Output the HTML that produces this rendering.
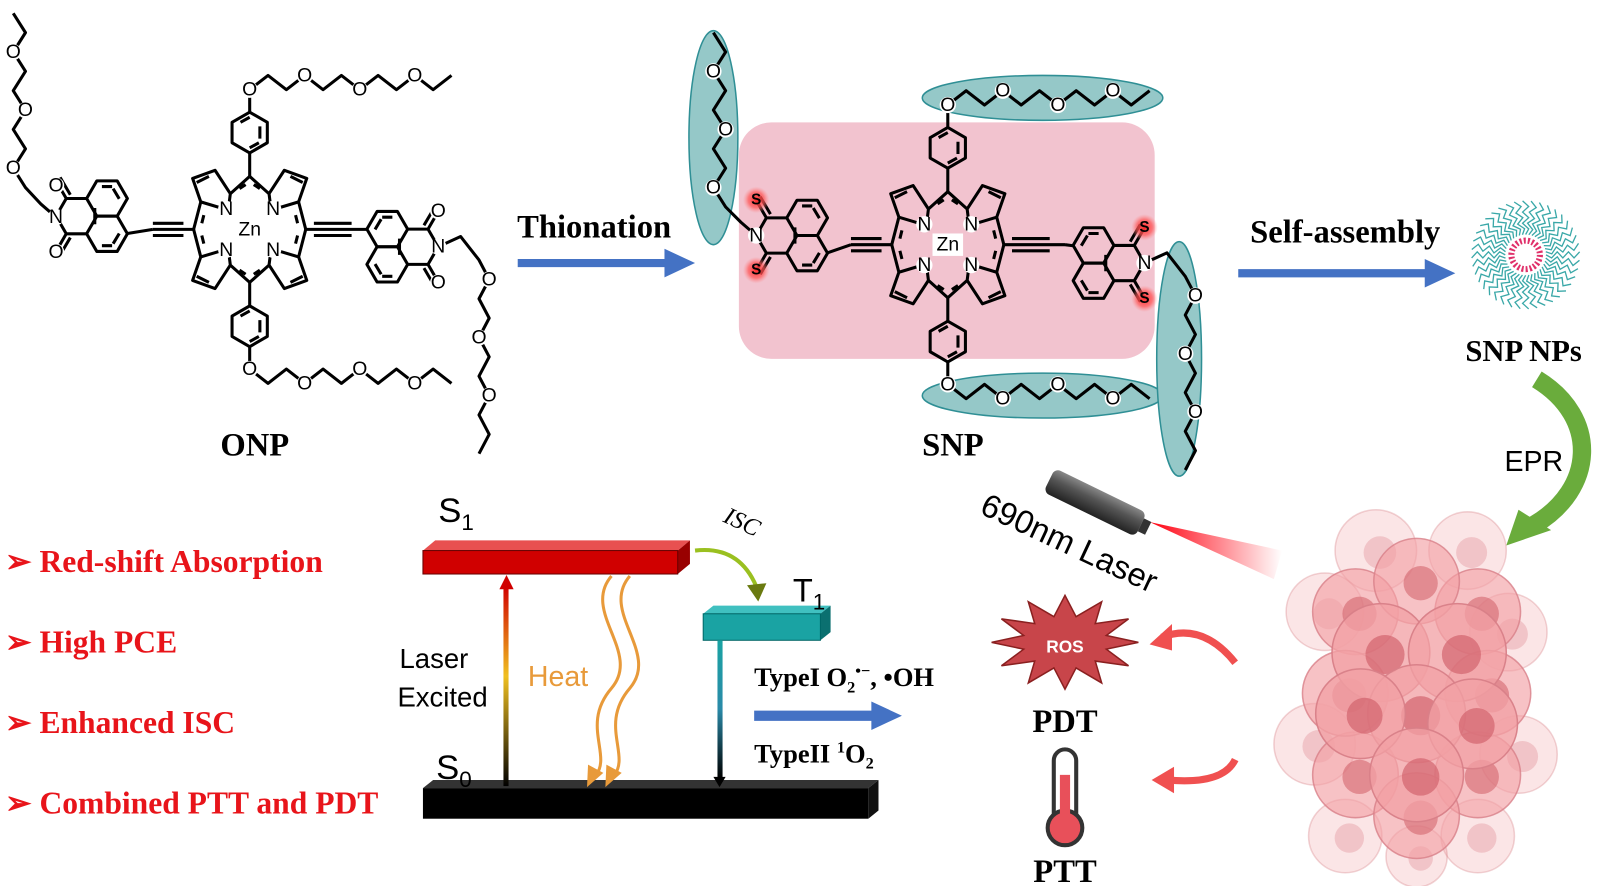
<!DOCTYPE html>
<html><head><meta charset="utf-8"><style>
html,body{margin:0;padding:0;background:#fff;}
svg{display:block}
.m{font-family:"Liberation Sans",sans-serif;font-size:19px;fill:#000;text-anchor:middle;dominant-baseline:central}
.b{stroke:#000;stroke-width:3;fill:none;stroke-linejoin:round}
.sf{font-family:"Liberation Serif",serif;font-weight:bold}
.ss{font-family:"Liberation Sans",sans-serif}
.li{font-family:"Liberation Serif",serif;font-weight:bold;font-size:31px;fill:#e8141a}
</style></head><body>
<svg width="1598" height="886" viewBox="0 0 1568 869" preserveAspectRatio="none" xmlns="http://www.w3.org/2000/svg">
<defs>
<g id="q"><path d="M-19,-35 L-34,-58 L-56,-50 L-48,-27 M-20,-27 L-19,-35 M-28,-21 L-48,-27 M-19,-35 L0,-52 M-48,-27 L-55,0 M-40,-52 L-52,-46 M-10,-40 L-4,-44 M-45,-14 L-47,-6"/></g>
<g id="por" class="b"><use href="#q"/><use href="#q" transform="scale(-1,1)"/><use href="#q" transform="scale(1,-1)"/><use href="#q" transform="scale(-1,-1)"/></g>
<g id="bz" class="b"><polygon points="0,-20 17.3,-10 17.3,10 0,20 -17.3,10 -17.3,-10"/><path d="M-9,-10 L0,-15 M9,10 L0,15 M10,-6 L10,6"/></g>
<g id="nap" class="b"><polygon points="-20,-17.3 -10,-34.6 10,-34.6 20,-17.3 10,0 -10,0"/><polygon points="-20,17.3 -10,0 10,0 20,17.3 10,34.6 -10,34.6"/><path d="M20,-17.3 L40,-17.3 L50,0 L40,17.3 L20,17.3 M40,-17.3 L50,-34.6 M40,17.3 L50,34.6 M36,-21 L46,-38 M36,21 L46,38 M-12,-17 L-6,-27 M5,-29 L-5,-29 M-12,17 L-6,27 M5,29 L-5,29 M12,-8 L12,8"/></g>
<radialGradient id="rg"><stop offset="0" stop-color="#ff2a2a"/><stop offset="0.6" stop-color="#ff5555" stop-opacity="0.7"/><stop offset="1" stop-color="#ff8888" stop-opacity="0"/></radialGradient>
<linearGradient id="exc" x1="0" y1="1" x2="0" y2="0"><stop offset="0" stop-color="#000"/><stop offset="0.55" stop-color="#f0c020"/><stop offset="1" stop-color="#d00000"/></linearGradient>
<linearGradient id="tg" x1="0" y1="0" x2="0" y2="1"><stop offset="0" stop-color="#1aa3a3"/><stop offset="0.5" stop-color="#2a8aa8"/><stop offset="1" stop-color="#000"/></linearGradient>
<linearGradient id="beam" x1="0" y1="0" x2="1" y2="0"><stop offset="0" stop-color="#ff0010"/><stop offset="1" stop-color="#ff0010" stop-opacity="0"/></linearGradient>
<linearGradient id="cyl" x1="0" y1="0" x2="0" y2="1"><stop offset="0" stop-color="#888"/><stop offset="0.4" stop-color="#555"/><stop offset="1" stop-color="#222"/></linearGradient>
</defs>

<!-- ONP -->
<use href="#por" x="245" y="225"/>
<path class="b" d="M245,173 L245,150 M245,277 L245,300 M190,225 L150,225 M300,225 L360,225 M150,219 L180,219 M150,231 L180,231 M308,219 L345,219 M308,231 L345,231"/>
<path class="b" d="M125,229 L150,225"/>
<use href="#bz" x="245" y="130"/><use href="#bz" x="245" y="320"/>
<use href="#nap" transform="translate(380,242)"/>
<use href="#nap" transform="translate(105,212) scale(-1,-1)"/>
<path class="b" d="M245,110 L245,90 M245,340 L245,360"/>
<polyline class="b" points="245,88 263,74 281,88 299,74 317,88 335,74 353,88 371,74 389,88 407,74 425,88 443,74"/>
<polyline class="b" points="245,362 263,376 281,362 299,376 317,362 335,376 353,362 371,376 389,362 407,376 425,362 443,376"/>
<polyline class="b" points="55,213 40,200 25,184 13,165 25,146 13,127 25,108 13,89 25,70 13,51 25,32 13,13"/>
<polyline class="b" points="430,242 452,232 470,255 480,274 470,293 480,312 470,331 480,350 470,369 480,388 470,407 480,426 470,445"/>
<g fill="#fff"><circle cx="245" cy="88" r="8"/><circle cx="299" cy="74" r="8"/><circle cx="353" cy="88" r="8"/><circle cx="407" cy="74" r="8"/><circle cx="245" cy="362" r="8"/><circle cx="299" cy="376" r="8"/><circle cx="353" cy="362" r="8"/><circle cx="407" cy="376" r="8"/><circle cx="13" cy="165" r="8"/><circle cx="25" cy="108" r="8"/><circle cx="13" cy="51" r="8"/><circle cx="480" cy="274" r="8"/><circle cx="470" cy="331" r="8"/><circle cx="480" cy="388" r="8"/><circle cx="55" cy="213" r="8"/><circle cx="430" cy="242" r="8"/><circle cx="55" cy="182" r="8"/><circle cx="55" cy="247" r="8"/><circle cx="430" cy="207" r="8"/><circle cx="430" cy="277" r="8"/><circle cx="222" cy="205" r="8"/><circle cx="268" cy="205" r="8"/><circle cx="222" cy="245" r="8"/><circle cx="268" cy="245" r="8"/><rect x="230" y="214" width="30" height="22"/></g>
<g class="m"><text x="245" y="88">O</text><text x="299" y="74">O</text><text x="353" y="88">O</text><text x="407" y="74">O</text><text x="245" y="362">O</text><text x="299" y="376">O</text><text x="353" y="362">O</text><text x="407" y="376">O</text><text x="13" y="165">O</text><text x="25" y="108">O</text><text x="13" y="51">O</text><text x="480" y="274">O</text><text x="470" y="331">O</text><text x="480" y="388">O</text><text x="55" y="213">N</text><text x="430" y="242">N</text><text x="55" y="182">O</text><text x="55" y="247">O</text><text x="430" y="207">O</text><text x="430" y="277">O</text><text x="222" y="205">N</text><text x="268" y="205">N</text><text x="222" y="245">N</text><text x="268" y="245">N</text><text x="245" y="225">Zn</text></g>
<text x="250" y="447" class="sf" font-size="32" text-anchor="middle">ONP</text>

<!-- Thionation -->
<text x="583" y="233" class="sf" font-size="32" text-anchor="middle">Thionation</text>
<path d="M508,254 L652,254 L652,244 L682,258 L652,272 L652,262 L508,262 Z" fill="#4472c4"/>

<!-- SNP -->
<rect x="725" y="120" width="408" height="232" rx="32" fill="#f2c3cf"/>
<g fill="#95c8c8" stroke="#2f8f95" stroke-width="1.5">
<ellipse cx="700" cy="135" rx="24" ry="105"/><ellipse cx="1023" cy="96" rx="118" ry="22"/><ellipse cx="1023" cy="388" rx="118" ry="22"/><ellipse cx="1157" cy="352" rx="22" ry="115"/></g>
<g transform="translate(685,15)">
<use href="#por" x="245" y="225"/>
<path class="b" d="M245,173 L245,150 M245,277 L245,300 M190,225 L150,225 M300,225 L360,225 M150,219 L180,219 M150,231 L180,231 M308,219 L345,219 M308,231 L345,231"/>
<use href="#bz" x="245" y="130"/><use href="#bz" x="245" y="320"/>
<path class="b" d="M245,110 L245,90 M245,340 L245,360"/>
<polyline class="b" points="245,88 263,74 281,88 299,74 317,88 335,74 353,88 371,74 389,88 407,74 425,88 443,74"/>
<polyline class="b" points="245,362 263,376 281,362 299,376 317,362 335,376 353,362 371,376 389,362 407,376 425,362 443,376"/>
</g>
<use href="#nap" transform="translate(1073,258)"/>
<use href="#nap" transform="translate(792,231) scale(-1,-1)"/>
<path class="b" d="M812,248 L835,240 M1053,241 L1045,240"/>
<polyline class="b" points="742,231 727,218 712,203 700,184 712,165 700,146 712,127 700,108 712,89 700,70 712,51 700,32"/>
<polyline class="b" points="1123,258 1145,248 1163,271 1173,290 1163,309 1173,328 1163,347 1173,366 1163,385 1173,404 1163,423 1173,442 1163,461"/>
<g fill="url(#rg)"><circle cx="742" cy="196" r="13"/><circle cx="742" cy="265" r="13"/><circle cx="1123" cy="223" r="13"/><circle cx="1123" cy="293" r="13"/></g>
<g fill="#fff"><circle cx="930" cy="103" r="8"/><circle cx="984" cy="89" r="8"/><circle cx="1038" cy="103" r="8"/><circle cx="1092" cy="89" r="8"/><circle cx="930" cy="377" r="8"/><circle cx="984" cy="391" r="8"/><circle cx="1038" cy="377" r="8"/><circle cx="1092" cy="391" r="8"/><circle cx="700" cy="184" r="8"/><circle cx="712" cy="127" r="8"/><circle cx="700" cy="70" r="8"/><circle cx="1173" cy="290" r="8"/><circle cx="1163" cy="347" r="8"/><circle cx="1173" cy="404" r="8"/><circle cx="742" cy="231" r="8"/><circle cx="1123" cy="258" r="8"/><circle cx="907" cy="220" r="8"/><circle cx="953" cy="220" r="8"/><circle cx="907" cy="260" r="8"/><circle cx="953" cy="260" r="8"/><rect x="915" y="229" width="30" height="22"/></g>
<g class="m"><text x="930" y="103">O</text><text x="984" y="89">O</text><text x="1038" y="103">O</text><text x="1092" y="89">O</text><text x="930" y="377">O</text><text x="984" y="391">O</text><text x="1038" y="377">O</text><text x="1092" y="391">O</text><text x="700" y="184">O</text><text x="712" y="127">O</text><text x="700" y="70">O</text><text x="1173" y="290">O</text><text x="1163" y="347">O</text><text x="1173" y="404">O</text><text x="742" y="231">N</text><text x="1123" y="258">N</text><text x="907" y="220">N</text><text x="953" y="220">N</text><text x="907" y="260">N</text><text x="953" y="260">N</text><text x="930" y="240">Zn</text>
<text x="742" y="196" font-size="15" font-weight="bold">S</text><text x="742" y="265" font-size="15" font-weight="bold">S</text><text x="1123" y="223" font-size="15" font-weight="bold">S</text><text x="1123" y="293" font-size="15" font-weight="bold">S</text></g>
<text x="935" y="447" class="sf" font-size="32" text-anchor="middle">SNP</text>

<!-- Self-assembly -->
<text x="1320" y="238" class="sf" font-size="32" text-anchor="middle">Self-assembly</text>
<path d="M1215,264 L1398,264 L1398,254 L1428,268 L1398,282 L1398,272 L1215,272 Z" fill="#4472c4"/>
<g id="mic"></g>
<circle cx="1497" cy="250" r="14" fill="none" stroke="#e0306a" stroke-width="6" stroke-dasharray="2 2"/>
<text x="1495" y="354" class="sf" font-size="30" text-anchor="middle">SNP NPs</text>

<!-- EPR -->
<path d="M1508,372 C1570,410 1565,480 1505,515" fill="none" stroke="#6aac3c" stroke-width="18"/>
<polygon points="1478,535 1490,500 1522,520" fill="#6aac3c"/>
<text x="1505" y="462" class="ss" font-size="28" text-anchor="middle">EPR</text>

<!-- Tumor -->
<g id="tum"></g>

<!-- Laser -->
<polygon points="1128,512 1258,540 1250,568" fill="url(#beam)"/>
<g transform="translate(1030,470) rotate(26)"><rect x="0" y="-12" width="100" height="26" rx="6" fill="url(#cyl)"/><rect x="100" y="-6" width="8" height="14" fill="#333"/></g>
<text x="0" y="0" class="ss" font-size="32" transform="translate(960,503) rotate(25)">690nm Laser</text>

<!-- ROS / PDT / PTT -->
<polygon id="star" fill="#c8454a" stroke="#8a2020" stroke-width="1.5" points=""/>
<text x="1045" y="640" class="ss" font-size="17" font-weight="bold" fill="#fff" text-anchor="middle">ROS</text>
<text x="1045" y="718" class="sf" font-size="32" text-anchor="middle">PDT</text>
<rect x="1034" y="735" width="22" height="75" rx="11" fill="#fff" stroke="#333" stroke-width="4"/>
<circle cx="1045" cy="812" r="17" fill="#e8505a" stroke="#333" stroke-width="4"/>
<rect x="1040" y="760" width="10" height="50" fill="#e8505a"/>
<text x="1045" y="865" class="sf" font-size="32" text-anchor="middle">PTT</text>
<path d="M1212,650 Q1180,610 1140,625" fill="none" stroke="#f05050" stroke-width="7"/>
<polygon points="1128,632 1150,612 1150,638" fill="#f05050"/>
<path d="M1212,745 Q1200,770 1145,765" fill="none" stroke="#f05050" stroke-width="7"/>
<polygon points="1130,765 1152,752 1152,778" fill="#f05050"/>

<!-- Jablonski -->
<polygon points="415,540 427,530 677,530 665,540" fill="#e85050"/>
<polygon points="665,540 677,530 677,553 665,563" fill="#900"/>
<rect x="415" y="540" width="250" height="23" fill="#d00000" stroke="#600" stroke-width="1"/>
<polygon points="690,602 700,594 815,594 805,602" fill="#40c0c0"/>
<polygon points="805,602 815,594 815,620 805,628" fill="#0b7070"/>
<rect x="690" y="602" width="115" height="26" fill="#1aa3a3" stroke="#066" stroke-width="1"/>
<polygon points="415,773 425,765 862,765 852,773" fill="#333"/>
<polygon points="852,773 862,765 862,795 852,803" fill="#111"/>
<rect x="415" y="773" width="437" height="30" fill="#000"/>
<text x="430" y="512" class="ss" font-size="34">S<tspan font-size="22" dy="8">1</tspan></text>
<text x="778" y="590" class="ss" font-size="32">T<tspan font-size="22" dy="8">1</tspan></text>
<text x="428" y="764" class="ss" font-size="34">S<tspan font-size="22" dy="8">0</tspan></text>
<rect x="494" y="575" width="5" height="196" fill="url(#exc)"/>
<polygon points="490,578 497,564 504,578" fill="#d00000"/>
<text x="392" y="655" class="ss" font-size="27">Laser</text>
<text x="390" y="693" class="ss" font-size="27">Excited</text>
<path d="M600,565 C570,600 630,640 600,675 C570,710 600,740 585,760 M618,565 C588,600 648,640 618,675 C588,710 618,740 603,760" fill="none" stroke="#e89a3a" stroke-width="3"/>
<polygon points="576,772 577,750 592,758" fill="#e89a3a"/><polygon points="594,772 595,750 610,758" fill="#e89a3a"/>
<text x="518" y="673" class="ss" font-size="28" fill="#e89a3a">Heat</text>
<path d="M682,540 Q725,535 742,575" fill="none" stroke="#9ac020" stroke-width="4"/>
<polygon points="733,574 752,572 744,590" fill="#6a7a10"/>
<text x="706" y="517" font-family="Liberation Serif,serif" font-style="italic" font-size="24" transform="rotate(25 720 520)">ISC</text>
<rect x="704" y="628" width="5" height="135" fill="url(#tg)"/>
<polygon points="700,762 706,772 712,762" fill="#000"/>
<path d="M740,697 L855,697 L855,688 L885,702 L855,716 L855,707 L740,707 Z" fill="#4472c4"/>
<text x="740" y="673" class="sf" font-size="26">TypeI O<tspan font-size="16" dy="6">2</tspan><tspan font-size="16" dy="-16">•−</tspan><tspan dy="10">, •OH</tspan></text>
<text x="740" y="748" class="sf" font-size="26">TypeII <tspan font-size="16" dy="-10">1</tspan><tspan dy="10">O</tspan><tspan font-size="16" dy="6">2</tspan></text>

<!-- list -->
<text x="5" y="561" class="li">➢ Red-shift Absorption</text>
<text x="5" y="640" class="li">➢ High PCE</text>
<text x="5" y="719" class="li">➢ Enhanced ISC</text>
<text x="5" y="798" class="li">➢ Combined PTT and PDT</text>

<script>
(function(){
var ns="http://www.w3.org/2000/svg";
function el(t,a,p){var e=document.createElementNS(ns,t);for(var k in a)e.setAttribute(k,a[k]);p.appendChild(e);return e;}
var m=document.getElementById('mic');
for(var i=0;i<40;i++){var a=i/40*Math.PI*2,c=Math.cos(a),s=Math.sin(a),d="M"+(1497+c*20)+","+(250+s*20);
for(var j=1;j<=6;j++){var r=20+j*5.5,w=(j%2?3:-3);d+=" L"+(1497+c*r-s*w)+","+(250+s*r+c*w);}
el('path',{d:d,fill:'none',stroke:'#3aa8a8','stroke-width':1.3},m);}
var st=document.getElementById('star'),pts=[];
for(var i=0;i<24;i++){var a=i/24*Math.PI*2,rx=i%2?42:72,ry=i%2?26:46;pts.push((1045+Math.cos(a)*rx)+","+(630+Math.sin(a)*ry));}
st.setAttribute('points',pts.join(' '));
var t=document.getElementById('tum');
var cells=[[1300,600,38,0.35],[1480,620,38,0.35],[1290,730,40,0.35],[1490,740,38,0.35],[1350,540,40,0.35],[1440,540,38,0.35],[1320,820,36,0.35],[1450,820,36,0.35],[1390,840,30,0.35],
[1330,600,42,0.8],[1450,600,42,0.8],[1390,570,42,0.8],[1330,760,42,0.8],[1450,760,42,0.8],[1390,800,42,0.8],[1320,680,42,0.8],[1460,680,42,0.8],
[1355,640,48,0.95],[1430,640,48,0.95],[1390,700,48,0.95],[1335,700,44,0.95],[1445,710,44,0.95],[1390,760,46,0.95]];
cells.forEach(function(c){el('circle',{cx:c[0],cy:c[1],r:c[2],fill:'#f2a0a4','fill-opacity':c[3]*0.8,stroke:'#d88088','stroke-opacity':c[3],'stroke-width':1.5},t);
el('circle',{cx:c[0]+4,cy:c[1]+2,r:c[2]*0.4,fill:'#d0606a','fill-opacity':c[3]*0.7},t);});
})();
</script>
</svg>
</body></html>
